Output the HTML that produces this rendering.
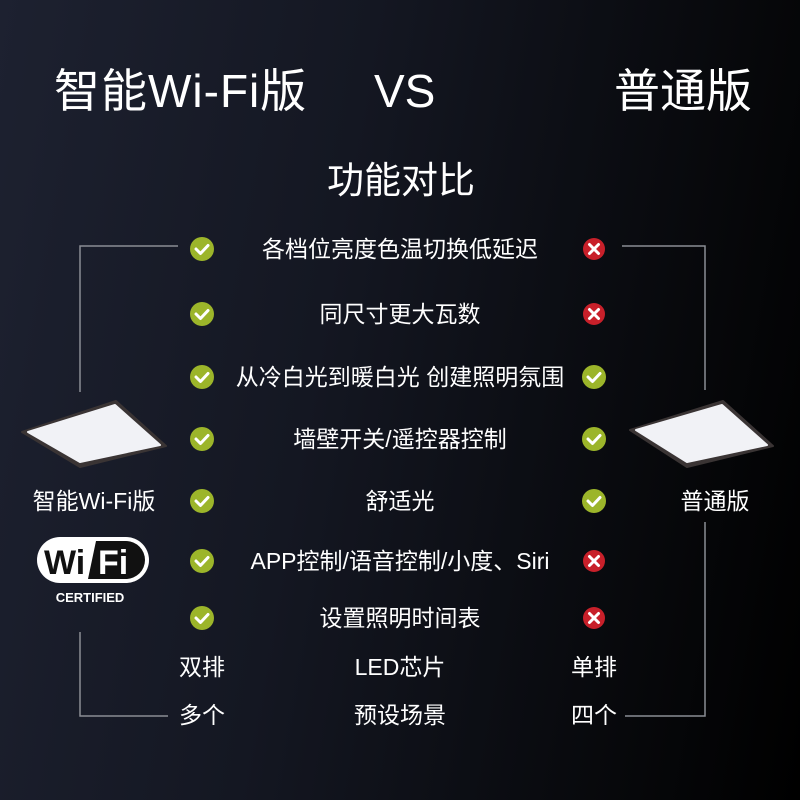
<!DOCTYPE html>
<html><head><meta charset="utf-8"><style>
html,body{margin:0;padding:0}
body{width:800px;height:800px;overflow:hidden;position:relative;background:linear-gradient(100deg,#1d2130 0%,#141722 40%,#07080b 80%,#000 100%);font-family:"Liberation Sans","Noto Sans CJK SC",sans-serif;color:#fff}
.t{position:absolute;white-space:nowrap;line-height:1}
.c{transform:translateX(-50%)}
svg{position:absolute;left:0;top:0}
</style></head><body>
<svg width="800" height="800">
<g stroke="#8a8d94" stroke-width="1.5" fill="none">
<polyline points="178,246 80,246 80,392"/>
<polyline points="80,632 80,716 168,716"/>
<polyline points="622,246 705,246 705,390"/>
<polyline points="705,522 705,716 625,716"/>
</g>
<polygon points="22,432 116,401 166,446 80,467" fill="#3a3434" stroke="#3a3434" stroke-width="2" stroke-linejoin="round"/>
<polygon points="28,432 115,405 160,445 80,462" fill="#f1f2f6" stroke="#f1f2f6" stroke-width="2" stroke-linejoin="round"/>
<polygon points="630,430 723,401 773,446 687,467" fill="#3a3434" stroke="#3a3434" stroke-width="2" stroke-linejoin="round"/>
<polygon points="636,430 722,405 767,445 687,462" fill="#f1f2f6" stroke="#f1f2f6" stroke-width="2" stroke-linejoin="round"/>
<rect x="37" y="537" width="112" height="46" rx="23" fill="#fff"/>
<path d="M96,541 H126 A19,19 0 0 1 126,579 H88 Z" fill="#111"/>
<text x="44" y="574" font-family="Liberation Sans" font-weight="bold" font-size="34" fill="#111">Wi</text>
<text x="98" y="574" font-family="Liberation Sans" font-weight="bold" font-size="34" fill="#fff">Fi</text>
<text x="90" y="602" text-anchor="middle" font-family="Liberation Sans" font-weight="bold" font-size="13" fill="#fff">CERTIFIED</text>
</svg>
<div class="t" style="left:54px;top:68px;font-size:46px;letter-spacing:1px">智能Wi-Fi版</div>
<div class="t" style="left:374px;top:68px;font-size:46px">VS</div>
<div class="t" style="left:614px;top:68px;font-size:46px">普通版</div>
<div class="t c" style="left:401px;top:162px;font-size:37px">功能对比</div>
<div class="t c" style="left:400px;top:238px;font-size:23px">各档位亮度色温切换低延迟</div>
<div class="t c" style="left:400px;top:303px;font-size:23px">同尺寸更大瓦数</div>
<div class="t c" style="left:400px;top:366px;font-size:23px">从冷白光到暖白光 创建照明氛围</div>
<div class="t c" style="left:400px;top:428px;font-size:23px">墙壁开关/遥控器控制</div>
<div class="t c" style="left:400px;top:490px;font-size:23px">舒适光</div>
<div class="t c" style="left:400px;top:550px;font-size:23px">APP控制/语音控制/小度、Siri</div>
<div class="t c" style="left:400px;top:607px;font-size:23px">设置照明时间表</div>
<div class="t c" style="left:400px;top:656px;font-size:23px">LED芯片</div>
<div class="t c" style="left:400px;top:704px;font-size:23px">预设场景</div>
<div class="t c" style="left:202px;top:656px;font-size:23px">双排</div>
<div class="t c" style="left:202px;top:704px;font-size:23px">多个</div>
<div class="t c" style="left:594px;top:656px;font-size:23px">单排</div>
<div class="t c" style="left:594px;top:704px;font-size:23px">四个</div>
<div class="t c" style="left:94px;top:490px;font-size:23px">智能Wi-Fi版</div>
<div class="t c" style="left:715px;top:490px;font-size:23px">普通版</div>
<svg width="800" height="800">
<defs>
<g id="ok"><circle r="12" fill="#9cb52a"/><polyline points="-6,0 -1.5,4.5 6,-3.5" stroke="#fff" stroke-width="3" fill="none" stroke-linecap="round" stroke-linejoin="round"/></g>
<g id="no"><circle r="11" fill="#c8202a"/><path d="M-4.5,-4.5 L4.5,4.5 M4.5,-4.5 L-4.5,4.5" stroke="#fff" stroke-width="3" stroke-linecap="round"/></g>
</defs>
<use href="#ok" x="202" y="249"/><use href="#no" x="594" y="249"/>
<use href="#ok" x="202" y="314"/><use href="#no" x="594" y="314"/>
<use href="#ok" x="202" y="377"/><use href="#ok" x="594" y="377"/>
<use href="#ok" x="202" y="439"/><use href="#ok" x="594" y="439"/>
<use href="#ok" x="202" y="501"/><use href="#ok" x="594" y="501"/>
<use href="#ok" x="202" y="561"/><use href="#no" x="594" y="561"/>
<use href="#ok" x="202" y="618"/><use href="#no" x="594" y="618"/>
</svg>
</body></html>
